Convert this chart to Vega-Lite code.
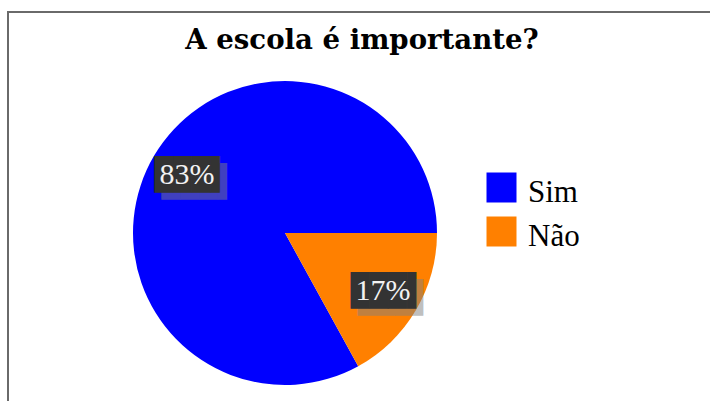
{
  "$schema": "https://vega.github.io/schema/vega-lite/v6.json",
  "width": 708,
  "height": 400,
  "autosize": "none",
  "padding": {"left": 8, "top": 12, "right": 0, "bottom": 0},
  "background": "white",
  "view": {"stroke": "#6a6a6a", "strokeWidth": 2},
  "config": {"view": {"stroke": "#6a6a6a", "strokeWidth": 2}},
  "title": {
    "text": "A escola é importante?",
    "font": "DejaVu Serif",
    "fontWeight": "bold",
    "fontSize": 27.6,
    "color": "black",
    "anchor": "middle",
    "frame": "group",
    "offset": -33,
    "dy": 32,
    "baseline": "alphabetic"
  },
  "data": {
    "values": [
      {"resposta": "Sim", "valor": 83, "rotulo": "83%"},
      {"resposta": "Não", "valor": 17, "rotulo": "17%"}
    ]
  },
  "encoding": {
    "theta": {"field": "valor", "type": "quantitative", "stack": true, "scale": {"range": [1.5708, 7.854]}},
    "order": {"field": "valor", "sort": "ascending"}
  },
  "layer": [
    {
      "mark": {"type": "arc", "outerRadius": 152, "x": 277, "y": 221},
      "encoding": {
        "color": {
          "field": "resposta",
          "type": "nominal",
          "scale": {"domain": ["Sim", "Não"], "range": ["#0000ff", "#ff8000"]},
          "legend": {
            "orient": "none",
            "legendX": 478,
            "legendY": 160,
            "title": null,
            "symbolType": "square",
            "symbolSize": 900,
            "symbolStrokeWidth": 0,
            "labelFont": "Liberation Serif",
            "labelFontSize": 31,
            "labelColor": "black",
            "labelOffset": 11,
            "rowPadding": 8,
            "padding": 0,
            "encode": {"labels": {"update": {"dy": {"value": 5}}}}
          }
        }
      }
    },
    {
      "mark": {"type": "text", "text": "███▌", "font": "DejaVu Sans Mono", "fontSize": 31, "radius": 114, "x": 277, "y": 221, "dx": 12, "dy": 8, "color": "#808080", "opacity": 0.5, "align": "center", "baseline": "middle"}
    },
    {
      "mark": {"type": "text", "text": "███▌", "font": "DejaVu Sans Mono", "fontSize": 31, "radius": 114, "x": 277, "y": 221, "dx": 5, "dy": 1, "color": "#333333", "align": "center", "baseline": "middle"}
    },
    {
      "mark": {"type": "text", "font": "Liberation Serif", "fontSize": 30, "radius": 114, "x": 277, "y": 221, "color": "#f2f2f2", "align": "center", "baseline": "middle"},
      "encoding": {"text": {"field": "rotulo", "type": "nominal"}}
    }
  ]
}
